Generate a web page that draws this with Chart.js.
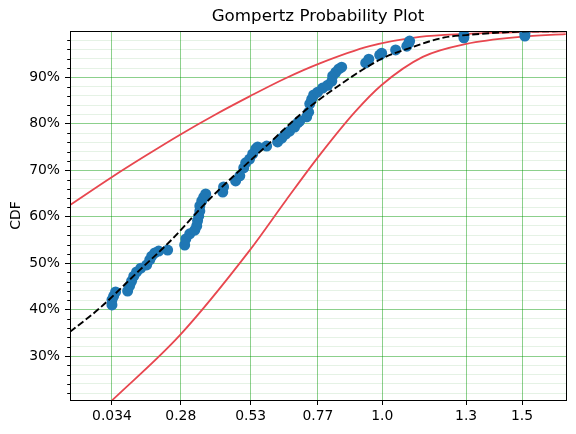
<!DOCTYPE html>
<html>
<head>
<meta charset="utf-8">
<script src="https://cdn.jsdelivr.net/npm/chart.js@4.4.0/dist/chart.umd.min.js"></script>
<style>
    html, body { margin: 0; padding: 0; background: #fff; }
</style>
</head>
<body>
<canvas id="plot" width="576" height="434"></canvas>
<script>
// failure times and their plotting positions (CDF in %)
const sampleX = [0.034, 0.034, 0.040, 0.047, 0.090, 0.097, 0.104, 0.112, 0.122, 0.137,
    0.158, 0.169, 0.176, 0.187, 0.201, 0.233, 0.294, 0.298, 0.312, 0.330,
    0.337, 0.340, 0.344, 0.348, 0.348, 0.355, 0.362, 0.369, 0.430, 0.433,
    0.476, 0.491, 0.505, 0.512, 0.526, 0.537, 0.548, 0.555, 0.587, 0.626,
    0.641, 0.655, 0.669, 0.687, 0.698, 0.705, 0.730, 0.737, 0.741, 0.748,
    0.755, 0.769, 0.787, 0.805, 0.820, 0.823, 0.834, 0.845, 0.855, 0.941,
    0.952, 0.991, 0.998, 1.048, 1.088, 1.095, 1.098, 1.292, 1.292, 1.510, 1.510];
const sampleY = [41.0, 42.1, 42.9, 43.8, 44.0, 45.1, 46.1, 47.2, 48.1, 48.9,
    49.6, 50.7, 51.5, 52.2, 52.6, 52.8, 53.9, 55.2, 56.3, 57.1,
    58.0, 59.1, 60.1, 61.2, 62.3, 63.4, 64.2, 64.9, 65.3, 66.4,
    67.7, 68.8, 70.5, 71.6, 72.4, 73.5, 74.6, 75.0, 75.2, 76.1,
    76.9, 77.8, 78.4, 79.3, 80.2, 80.6, 81.5, 82.5, 84.3, 85.3,
    86.2, 86.8, 87.7, 88.3, 89.2, 90.3, 91.1, 91.8, 92.2, 93.1,
    93.9, 94.8, 95.2, 95.9, 96.7, 97.4, 97.8, 98.5, 99.1, 98.9, 99.5];

// fitted Gompertz CDF
const fitX = [-0.116, -0.010, 0.133, 0.240, 0.383, 0.491, 0.598, 0.705, 0.823, 0.998, 1.098, 1.223, 1.299, 1.502, 1.656];
const fitY = [35.2, 40.3, 48.5, 54.6, 63.8, 70.0, 75.9, 81.9, 87.3, 94.0, 96.3, 98.6, 99.1, 99.86, 99.95];

// confidence bounds
const upperX = [-0.116, 0.033, 0.151, 0.276, 0.401, 0.526, 0.651, 0.777, 0.955, 1.134, 1.299, 1.492, 1.656];
const upperY = [62.5, 68.5, 73.0, 77.6, 81.9, 85.9, 89.7, 93.0, 96.7, 98.7, 99.35, 99.75, 99.86];
const lowerX = [0.030, 0.277, 0.527, 0.657, 0.777, 0.902, 0.997, 1.145, 1.301, 1.492, 1.656];
const lowerY = [20.2, 34.5, 52.8, 63.6, 73.3, 82.5, 88.3, 94.4, 97.2, 98.7, 99.3];

const xTickValues = [0.034, 0.28, 0.53, 0.77, 1.0, 1.3, 1.5];
const xTickLabels = ['0.034', '0.28', '0.53', '0.77', '1.0', '1.3', '1.5'];
const yMajorTicks = [30, 40, 50, 60, 70, 80, 90];
const yTickValues = [22, 24, 26, 28, 30, 32, 34, 36, 38, 40, 42, 44, 46, 48, 50, 52, 54, 56, 58, 60,
    62, 64, 66, 68, 70, 72, 74, 76, 78, 80, 82, 84, 86, 88, 90, 92, 94, 96, 98];

const toPoints = (xs, ys) => xs.map((x, i) => ({ x: x, y: ys[i] }));
const isMajor = (v) => yMajorTicks.includes(v);

// matplotlib style box + short minor ticks
const frameAndMinorTicks = {
    id: 'frameAndMinorTicks',
    afterDatasetsDraw(chart) {
        const { ctx, chartArea: a } = chart;
        const y = chart.scales.y;
        ctx.save();
        ctx.strokeStyle = '#000';
        ctx.lineWidth = 1;
        yTickValues.forEach(v => {
            if (isMajor(v)) return;
            const py = Math.round(y.getPixelForValue(v)) + 0.5;
            ctx.beginPath();
            ctx.moveTo(a.left - 2.8, py);
            ctx.lineTo(a.left, py);
            ctx.stroke();
        });
        ctx.strokeRect(Math.round(a.left) + 0.5, Math.round(a.top) + 0.5,
            Math.round(a.right - a.left), Math.round(a.bottom - a.top));
        ctx.restore();
    }
};

Chart.defaults.font.family = 'DejaVu Sans';
Chart.defaults.color = '#000';

new Chart(document.getElementById('plot'), {
    type: 'scatter',
    data: {
        datasets: [
            {
                label: 'fit',
                data: toPoints(fitX, fitY),
                showLine: true,
                borderColor: '#000',
                borderWidth: 1.9,
                borderDash: [7, 3],
                pointRadius: 0,
                cubicInterpolationMode: 'monotone',
                order: 0
            },
            {
                label: 'data',
                data: toPoints(sampleX, sampleY),
                backgroundColor: '#1f77b4',
                borderColor: '#1f77b4',
                borderWidth: 0,
                pointRadius: 5.5,
                order: 1
            },
            {
                label: 'upper',
                data: toPoints(upperX, upperY),
                showLine: true,
                borderColor: '#e8474f',
                borderWidth: 1.8,
                pointRadius: 0,
                cubicInterpolationMode: 'monotone',
                order: 2
            },
            {
                label: 'lower',
                data: toPoints(lowerX, lowerY),
                showLine: true,
                borderColor: '#e8474f',
                borderWidth: 1.8,
                pointRadius: 0,
                cubicInterpolationMode: 'monotone',
                order: 2
            }
        ]
    },
    options: {
        responsive: false,
        animation: false,
        layout: { padding: { left: 0, right: 10, top: 0, bottom: 0 } },
        plugins: {
            legend: { display: false },
            tooltip: { enabled: false },
            title: {
                display: true,
                text: 'Gompertz Probability Plot',
                fullSize: false,
                font: { size: 16.7, weight: 'normal' },
                padding: { top: 7, bottom: 4 }
            }
        },
        scales: {
            x: {
                type: 'linear',
                min: -0.116,
                max: 1.657,
                afterFit: (scale) => { scale.height = 34; },
                afterBuildTicks: (scale) => {
                    scale.ticks = xTickValues.map(v => ({ value: v }));
                },
                ticks: {
                    autoSkip: false,
                    maxRotation: 0,
                    padding: 3,
                    font: { size: 13.9 },
                    callback: (value, index) => xTickLabels[index]
                },
                grid: {
                    color: 'rgba(0, 150, 0, 0.45)',
                    lineWidth: 1,
                    tickLength: 5,
                    tickColor: '#000'
                },
                border: { color: '#000', width: 1 }
            },
            y: {
                type: 'linear',
                min: 20.53,
                max: 99.97,
                afterFit: (scale) => { scale.width = 70; },
                afterBuildTicks: (scale) => {
                    scale.ticks = yTickValues.map(v => ({ value: v }));
                },
                ticks: {
                    autoSkip: false,
                    padding: 5,
                    font: { size: 13.9 },
                    callback: (value) => isMajor(value) ? value + '%' : ''
                },
                grid: {
                    color: (ctx) => ctx.tick && isMajor(ctx.tick.value) ? 'rgba(0, 150, 0, 0.45)' : 'rgba(0, 128, 0, 0.1)',
                    lineWidth: 1,
                    tickLength: 5,
                    tickColor: (ctx) => ctx.tick && isMajor(ctx.tick.value) ? '#000' : 'rgba(0, 0, 0, 0)'
                },
                border: { color: '#000', width: 1 },
                title: {
                    display: true,
                    text: 'CDF',
                    font: { size: 13.9 },
                    padding: { top: 8, bottom: 0 }
                }
            }
        }
    },
    plugins: [frameAndMinorTicks]
});
</script>
</body>
</html>
